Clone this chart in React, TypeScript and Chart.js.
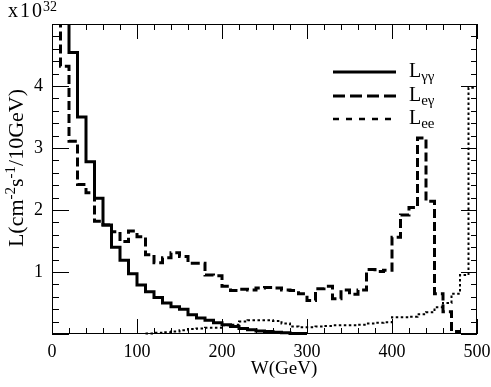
import React, { useEffect, useRef } from 'react';
import { Chart, registerables } from 'chart.js';

Chart.register(...registerables);

// Bin edges in W (GeV), 10 GeV bins
const W_EDGES = [
  0, 10, 20, 30, 40, 50, 60, 70, 80, 90,
  100, 110, 120, 130, 140, 150, 160, 170, 180, 190,
  200, 210, 220, 230, 240, 250, 260, 270, 280, 290,
  300, 310, 320, 330, 340, 350, 360, 370, 380, 390,
  400, 410, 420, 430, 440, 450, 460, 470, 480, 490,
  500,
];

// L_gamma-gamma (solid), units of 1e32 cm^-2 s^-1 / 10 GeV
const L_GG = [
  8.0, 6.0, 4.54, 3.50, 2.78, 2.19, 1.76, 1.40, 1.19, 0.97,
  0.79, 0.68, 0.59, 0.50, 0.44, 0.40, 0.31, 0.26, 0.22, 0.18,
  0.15, 0.12, 0.09, 0.07, 0.05, 0.04, 0.03, 0.02, 0.01, 0.01,
  null, null, null, null, null, null, null, null, null, null,
  null, null, null, null, null, null, null, null, null, null,
];

// L_e-gamma (dashed)
const L_EG = [
  6.0, 4.32, 3.11, 2.41, 2.28, 1.82, 1.76, 1.65, 1.49, 1.66,
  1.57, 1.28, 1.15, 1.23, 1.31, 1.25, 1.14, 1.14, 0.95, 0.94,
  0.77, 0.70, 0.72, 0.71, 0.74, 0.75, 0.74, 0.71, 0.70, 0.65,
  0.54, 0.73, 0.77, 0.57, 0.71, 0.64, 0.71, 1.04, 1.01, 1.03,
  1.56, 1.92, 2.04, 3.16, 2.14, 0.65, 0.36, 0.04, null, null,
];

// L_ee (dotted)
const L_EE = [
  null, null, null, null, null, null, null, null, null, null,
  null, 0.01, 0.02, 0.03, 0.04, 0.06, 0.08, 0.09, 0.10, 0.10,
  0.14, 0.15, 0.20, 0.22, 0.22, 0.22, 0.21, 0.17, 0.12, 0.11,
  0.11, 0.12, 0.13, 0.14, 0.14, 0.14, 0.15, 0.17, 0.18, 0.19,
  0.27, 0.27, 0.28, 0.32, 0.35, 0.43, 0.50, 0.65, 0.95, 3.97,
];

const X_MIN = 0;
const X_MAX = 500;
const Y_MIN = 0;
const Y_MAX = 5;
const X_MAJOR_STEP = 100;
const X_MINOR_STEP = 20;
const Y_MAJOR_STEP = 1;
const Y_MINOR_STEP = 0.2;

const SERIF = "'Liberation Serif', 'DejaVu Serif', serif";

function histPoints(vals: (number | null)[]) {
  const pts: { x: number; y: number | null }[] = [];
  for (let i = 0; i < vals.length; i++) {
    const v = vals[i];
    if (v === null) {
      if (pts.length && pts[pts.length - 1].y !== null) pts.push({ x: W_EDGES[i], y: null });
      continue;
    }
    pts.push({ x: W_EDGES[i], y: v });
    if (i === vals.length - 1 || vals[i + 1] === null) pts.push({ x: W_EDGES[i + 1], y: v });
  }
  return pts;
}

type Part = { t: string; size: number; dy: number };

function drawRich(ctx: CanvasRenderingContext2D, parts: Part[], x: number, y: number) {
  let cx = x;
  for (const p of parts) {
    ctx.font = `${p.size}px ${SERIF}`;
    ctx.fillText(p.t, cx, y + p.dy);
    cx += ctx.measureText(p.t).width;
  }
  return cx - x;
}

function measureRich(ctx: CanvasRenderingContext2D, parts: Part[]) {
  let w = 0;
  for (const p of parts) {
    ctx.font = `${p.size}px ${SERIF}`;
    w += ctx.measureText(p.t).width;
  }
  return w;
}

const decorPlugin = {
  id: 'decor',
  afterDatasetsDraw(chart: any) {
    const { ctx, chartArea: a, scales } = chart;
    const xs = scales.x;
    const ys = scales.y;
    ctx.save();
    ctx.strokeStyle = '#000';
    ctx.fillStyle = '#000';
    ctx.lineWidth = 1;
    ctx.setLineDash([]);
    // frame
    ctx.strokeRect(a.left + 0.5, a.top + 0.5, a.right - a.left - 1, a.bottom - a.top - 1);
    // ticks, inward on all four sides
    ctx.beginPath();
    const nx = Math.round((X_MAX - X_MIN) / X_MINOR_STEP);
    for (let k = 0; k <= nx; k++) {
      const v = X_MIN + k * X_MINOR_STEP;
      const major = Math.abs(v / X_MAJOR_STEP - Math.round(v / X_MAJOR_STEP)) < 1e-6;
      const px = Math.round(xs.getPixelForValue(v)) + 0.5;
      const len = major ? 15 : 6;
      ctx.moveTo(px, a.bottom);
      ctx.lineTo(px, a.bottom - len);
      ctx.moveTo(px, a.top);
      ctx.lineTo(px, a.top + len);
    }
    const ny = Math.round((Y_MAX - Y_MIN) / Y_MINOR_STEP);
    for (let k = 0; k <= ny; k++) {
      const v = Y_MIN + k * Y_MINOR_STEP;
      const major = Math.abs(v / Y_MAJOR_STEP - Math.round(v / Y_MAJOR_STEP)) < 1e-6;
      const py = Math.round(ys.getPixelForValue(v)) + 0.5;
      ctx.moveTo(a.left, py);
      ctx.lineTo(a.left + (major ? 17 : 7), py);
      ctx.moveTo(a.right, py);
      ctx.lineTo(a.right - (major ? 16 : 6), py);
    }
    ctx.stroke();

    // x10^32
    ctx.textAlign = 'left';
    ctx.textBaseline = 'alphabetic';
    ctx.font = `20px ${SERIF}`;
    (ctx as any).letterSpacing = '2px';
    ctx.fillText('x10', 8, 17);
    (ctx as any).letterSpacing = '0px';
    ctx.font = `14px ${SERIF}`;
    ctx.fillText('32', 43, 11);

    // x-axis title
    ctx.font = `19px ${SERIF}`;
    ctx.textAlign = 'center';
    ctx.fillText('W(GeV)', 284, 374);
    ctx.textAlign = 'left';

    // y-axis title (rotated, with superscripts)
    const yParts: Part[] = [
      { t: 'L(cm', size: 22, dy: 0 },
      { t: '-2', size: 15, dy: -8 },
      { t: 's', size: 22, dy: 0 },
      { t: '-1', size: 15, dy: -8 },
      { t: '/10GeV)', size: 22, dy: 0 },
    ];
    ctx.save();
    ctx.translate(23, 168);
    ctx.rotate(-Math.PI / 2);
    const tw = measureRich(ctx, yParts);
    drawRich(ctx, yParts, -tw / 2, 0);
    ctx.restore();

    // legend
    const legend = [
      { sub: '\u03b3\u03b3', y: 72, dash: [] as number[], w: 3 },
      { sub: 'e\u03b3', y: 96, dash: [12, 5], w: 3 },
      { sub: 'ee', y: 119, dash: [6, 7], w: 2.5 },
    ];
    for (const item of legend) {
      ctx.beginPath();
      ctx.setLineDash(item.dash);
      ctx.lineWidth = item.w;
      ctx.moveTo(333, item.y);
      ctx.lineTo(396, item.y);
      ctx.stroke();
      ctx.setLineDash([]);
      drawRich(ctx, [
        { t: 'L', size: 20, dy: 0 },
        { t: item.sub, size: 15, dy: 4 },
      ], 409, item.y + 5);
    }
    ctx.restore();
  },
};

export default function App() {
  const ref = useRef<HTMLCanvasElement | null>(null);
  useEffect(() => {
    if (!ref.current) return;
    const common = {
      pointRadius: 0,
      stepped: 'before' as const,
      borderColor: '#000',
      backgroundColor: '#000',
      fill: false,
      borderJoinStyle: 'miter' as const,
      borderCapStyle: 'butt' as const,
      spanGaps: false,
      clip: { left: 0, top: 0, right: 0, bottom: 3 },
    };
    const chart = new Chart(ref.current, {
      type: 'line',
      data: {
        datasets: [
          { ...common, label: 'L_gg', data: histPoints(L_GG) as any, borderWidth: 3 },
          { ...common, label: 'L_eg', data: histPoints(L_EG) as any, borderWidth: 3, borderDash: [9, 4] },
          { ...common, label: 'L_ee', data: histPoints(L_EE) as any, borderWidth: 2, borderDash: [2.5, 2.5] },
        ],
      },
      options: {
        animation: false,
        responsive: false,
        devicePixelRatio: 1,
        layout: { padding: { top: 24, right: 14, left: 0, bottom: 0 } },
        plugins: { legend: { display: false }, tooltip: { enabled: false } },
        scales: {
          x: {
            type: 'linear',
            min: X_MIN,
            max: X_MAX,
            afterFit: (s: any) => {
              s.height = 53;
              s.paddingLeft = 0;
              s.paddingRight = 0;
              s.paddingTop = 0;
              s.paddingBottom = 0;
            },
            grid: { display: false, drawTicks: false },
            border: { display: false },
            ticks: {
              stepSize: X_MAJOR_STEP,
              autoSkip: false,
              maxRotation: 0,
              padding: 7,
              color: '#000',
              font: { family: SERIF, size: 18 },
            },
          },
          y: {
            type: 'linear',
            min: Y_MIN,
            max: Y_MAX,
            afterFit: (s: any) => {
              s.width = 52;
              s.paddingTop = 0;
              s.paddingBottom = 0;
              s.paddingLeft = 0;
              s.paddingRight = 0;
            },
            grid: { display: false, drawTicks: false },
            border: { display: false },
            ticks: {
              stepSize: Y_MAJOR_STEP,
              autoSkip: false,
              padding: 9,
              color: '#000',
              font: { family: SERIF, size: 18 },
              callback: (v: any) => (v === Y_MIN || v === Y_MAX ? '' : String(v)),
            },
          },
        },
      },
      plugins: [decorPlugin],
    });
    return () => chart.destroy();
  }, []);
  return (
    <div style={{ position: 'fixed', left: 0, top: 0, width: 491, height: 387, background: '#fff' }}>
      <canvas ref={ref} width={491} height={387} style={{ width: 491, height: 387, display: 'block' }} />
    </div>
  );
}
